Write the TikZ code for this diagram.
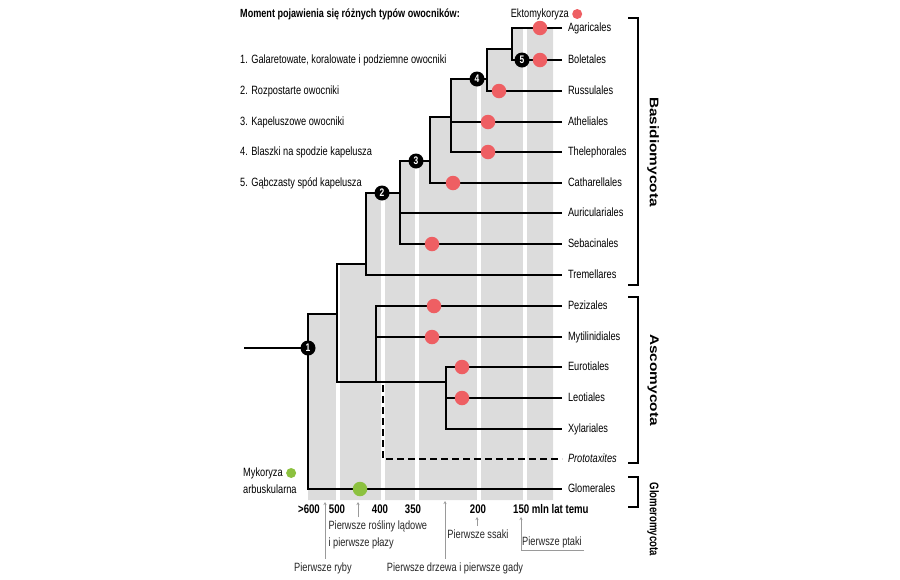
\documentclass[tikz,border=0pt]{standalone}
\usepackage{fontspec}
\setmainfont{Liberation Sans}[FakeStretch=0.77]
\usetikzlibrary{positioning,arrows.meta}

\definecolor{ectored}{HTML}{EE5F63}
\definecolor{amgreen}{HTML}{8CC13F}
\definecolor{bandgrey}{HTML}{DCDCDC}
\definecolor{notegrey}{HTML}{9A9A9A}

\tikzset{
  branch/.style={line width=2.6pt},
  leaf/.style={anchor=west,inner xsep=6pt,inner ysep=0pt,outer sep=0pt,
    text height=8pt,text depth=2pt,font=\fontsize{12}{14}\selectfont},
  ecto/.style={circle,fill=ectored,minimum size=14.5pt,inner sep=0pt},
  amdot/.style={circle,fill=amgreen,minimum size=14.5pt,inner sep=0pt},
  stage/.style={circle,fill=black,minimum size=15pt,inner sep=0pt,
    text=white,font=\fontsize{11}{11}\selectfont\bfseries},
  legend/.style={inner sep=1pt,font=\fontsize{12}{14}\selectfont},
  axislab/.style={font=\fontsize{12.5}{14}\selectfont\bfseries},
  note/.style={font=\fontsize{12}{17}\selectfont,text=black!85},
  pointer/.style={draw=notegrey,line width=0.9pt,-{Stealth[length=3pt,width=3pt]}},
  bracket/.style={line width=2.6pt},
  clade/.style={rotate=-90,font=\fontsize{12.5}{14}\selectfont\bfseries}
}
\newcommand{\widelabel}[1]{\scalebox{1.6}[1]{#1}}

\begin{document}
\begin{tikzpicture}[x=1pt,y=-1pt]
  \useasboundingbox (0,0) rectangle (900,579);

  % leaves
  \node[leaf] (agar) at (562,28) {Agaricales};
  \node[leaf] (bole) at (562,60) {Boletales};
  \node[leaf] (russ) at (562,91) {Russulales};
  \node[leaf] (athe) at (562,122) {Atheliales};
  \node[leaf] (thel) at (562,152) {Thelephorales};
  \node[leaf] (cath) at (562,183) {Catharellales};
  \node[leaf] (auri) at (562,213) {Auriculariales};
  \node[leaf] (seba) at (562,244) {Sebacinales};
  \node[leaf] (trem) at (562,275) {Tremellares};
  \node[leaf] (pezi) at (562,306) {Pezizales};
  \node[leaf] (myti) at (562,337) {Mytilinidiales};
  \node[leaf] (euro) at (562,367) {Eurotiales};
  \node[leaf] (leot) at (562,398) {Leotiales};
  \node[leaf] (xyla) at (562,429) {Xylariales};
  \node[leaf] (prot) at (562,459) {\itshape Prototaxites};
  \node[leaf] (glom) at (562,489) {Glomerales};

  % inner points of the tree
  \coordinate (root) at (244,348);
  \coordinate (k1) at (308,314);
  \coordinate (k2) at (337,264);
  \coordinate (k3) at (366,193);
  \coordinate (k4) at (400,161);
  \coordinate (k5) at (430,117);
  \coordinate (k6) at (451,79);
  \coordinate (k7) at (487,49);
  \coordinate (k8) at (512,28);
  \coordinate (ka) at (376,382);
  \coordinate (kb) at (446,382);
  \coordinate (kp) at (383,385);

  % grey time bands
  \begin{scope}
    \clip (agar.west -| 553,0) -- (k8) -- (k8 |- k7) -- (k7) -- (k7 |- k6) -- (k6)
      -- (k6 |- k5) -- (k5) -- (k5 |- k4) -- (k4) -- (k4 |- k3) -- (k3)
      -- (k3 |- k2) -- (k2) -- (k2 |- k1) -- (k1) -- (308,500) -- (553,500) -- cycle;
    \fill[bandgrey] (300,20) rectangle (560,505);
    \foreach \x in {338,383,417,479,525}
      \fill[white] (\x-1.8,20) rectangle (\x+1.8,505);
  \end{scope}

  % Basidiomycota
  \draw[branch] (agar.west) -- (k8) |- (bole.west);
  \draw[branch] (k8 |- k7) -- (k7) |- (russ.west);
  \draw[branch] (k7 |- k6) -- (k6) |- (thel.west);
  \draw[branch] (athe.west) -- (athe.west -| k6);
  \draw[branch] (k6 |- k5) -- (k5) |- (cath.west);
  \draw[branch] (k5 |- k4) -- (k4) |- (seba.west);
  \draw[branch] (auri.west) -- (auri.west -| k4);
  \draw[branch] (k4 |- k3) -- (k3) |- (trem.west);

  % Ascomycota
  \draw[branch] (k3 |- k2) -- (k2) |- (kb);
  \draw[branch] (pezi.west) -| (ka);
  \draw[branch] (myti.west) -- (myti.west -| ka);
  \draw[branch] (euro.west) -| (kb) |- (xyla.west);
  \draw[branch] (leot.west) -- (leot.west -| kb);
  \draw[branch,dash pattern=on 7pt off 4pt] (kp) |- (prot.west);

  % Glomeromycota and root
  \draw[branch] (k2 |- k1) -- (k1) |- (glom.west);
  \draw[branch] (root) -- (root -| k1);

  % ectomycorrhiza
  \node[ecto] (e1) at (540,28) {};
  \node[ecto] (e2) at (540,60) {};
  \node[ecto] (e3) at (499,91) {};
  \node[ecto] (e4) at (488,122) {};
  \node[ecto] (e5) at (488,152) {};
  \node[ecto] (e6) at (453,183) {};
  \node[ecto] (e7) at (432,244) {};
  \node[ecto] (e8) at (434,306) {};
  \node[ecto] (e9) at (432,337) {};
  \node[ecto] (e10) at (462,367) {};
  \node[ecto] (e11) at (462,398) {};
  \node[amdot] (am) at (360,489) {};

  % stages
  \node[stage] (s1) at (308,348) {1};
  \node[stage] (s2) at (382,193) {2};
  \node[stage] (s3) at (416,161) {3};
  \node[stage] (s4) at (477,79) {4};
  \node[stage] (s5) at (522,60) {5};

  % key
  \node[anchor=west,inner sep=1pt,font=\fontsize{11.8}{14}\selectfont\bfseries] (title) at (239,14)
    {Moment pojawienia się różnych typów owocników:};
  \node[legend,anchor=west] (fr1) at (239,60) {1. Galaretowate, koralowate i podziemne owocniki};
  \node[legend,anchor=west] (fr2) at (239,91) {2. Rozpostarte owocniki};
  \node[legend,anchor=west] (fr3) at (239,122) {3. Kapeluszowe owocniki};
  \node[legend,anchor=west] (fr4) at (239,152) {4. Blaszki na spodzie kapelusza};
  \node[legend,anchor=west] (fr5) at (239,183) {5. Gąbczasty spód kapelusza};

  \node[legend,anchor=east] (ekto) at (570,14) {Ektomykoryza};
  \node[ecto,minimum size=10pt,right=2pt of ekto] (ektodot) {};
  \node[legend,anchor=west] (myk) at (242,473) {Mykoryza};
  \node[amdot,minimum size=10pt,right=2pt of myk] (mykdot) {};
  \node[legend,anchor=west] (arb) at (242,489) {arbuskularna};

  % time axis
  \node[axislab] (t600) at (309,509) {>600};
  \node[axislab] (t500) at (337,509) {500};
  \node[axislab] (t400) at (380,509) {400};
  \node[axislab] (t350) at (413,509) {350};
  \node[axislab] (t200) at (478,509) {200};
  \node[axislab,anchor=west,inner xsep=0pt] (t150) at (513,509) {150 mln lat temu};

  % events
  \coordinate (tryby) at (325,502);
  \coordinate (trosl) at (358,502);
  \coordinate (tdrze) at (445,501);
  \coordinate (tssak) at (477,517);
  \coordinate (tptak) at (521,517);
  \node[note] (ryby) at (323,568) {Pierwsze ryby};
  \node[note,anchor=west,align=left] (rosl) at (325,535) {Pierwsze rośliny lądowe\\i pierwsze płazy};
  \node[note] (drze) at (455,568) {Pierwsze drzewa i pierwsze gady};
  \node[note] (ssak) at (478,534) {Pierwsze ssaki};
  \node[note,anchor=south east,inner sep=2pt] (ptak) at (584,550) {Pierwsze ptaki};
  \draw[pointer] (ryby.north -| tryby) -- (tryby);
  \draw[pointer] (rosl.north -| trosl) -- (trosl);
  \draw[pointer] (drze.north -| tdrze) -- (tdrze);
  \draw[pointer] (ssak.north -| tssak) -- (tssak);
  \draw[pointer] (ptak.south east) -| (tptak);

  % groups
  \draw[bracket] (628,18) -| (638,285) -- (628,285);
  \draw[bracket] (628,297) -| (638,463) -- (628,463);
  \draw[bracket] (628,477) -| (638,507) -- (628,507);
  \node[clade] (basi) at (653,152) {\widelabel{Basidiomycota}};
  \node[clade] (asco) at (653,380) {\widelabel{Ascomycota}};
  \node[clade,anchor=west] (glomy) at (653,479) {Glomeromycota};
\end{tikzpicture}
\end{document}
